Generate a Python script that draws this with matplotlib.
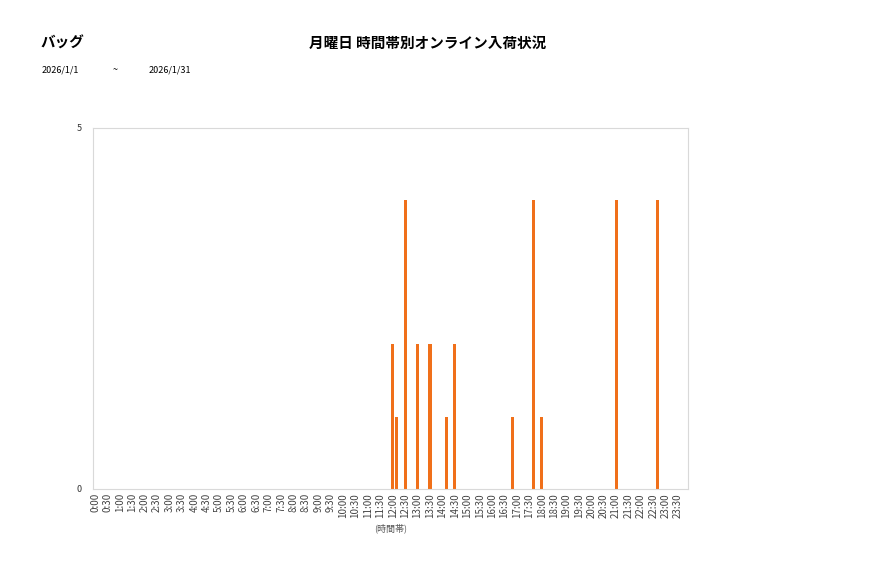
import numpy as np
import matplotlib
matplotlib.use("Agg")
import matplotlib.pyplot as plt

plt.rcParams['font.family'] = ['Noto Sans CJK JP', 'DejaVu Sans']

# 10-minute slots over one day
slot_labels = [f"{h}:{m:02d}" for h in range(24) for m in range(0, 60, 10)]

# non-zero counts
hit_slots = ["12:00", "12:10", "12:30", "13:00", "13:30", "14:10", "14:30",
             "16:50", "17:40", "18:00", "21:00", "22:40"]
hit_counts = [2, 1, 4, 2, 2, 1, 2, 1, 4, 1, 4, 4]

counts = np.zeros(len(slot_labels))
for s, c in zip(hit_slots, hit_counts):
    counts[slot_labels.index(s)] = c

title = "月曜日 時間帯別オンライン入荷状況"
category = "バッグ"
date_from = "2026/1/1"
date_to = "2026/1/31"

fig = plt.figure(figsize=(8.77, 5.78), dpi=100)
ax = fig.add_axes([0.106, 0.154, 0.679, 0.625])

x = np.arange(len(slot_labels))
ax.bar(x, counts, width=0.75, color="#F0701A")

ax.set_xlim(-0.5, len(slot_labels) - 0.5)
ax.set_ylim(0, 5)
ax.set_yticks([0, 5])
ax.set_yticklabels(["0", "5"], fontsize=6.5, color="#333333")
ax.set_xticks(x[::3])
ax.set_xticklabels(slot_labels[::3], rotation=90, fontsize=7, color="#444444")
ax.tick_params(length=0, pad=3)
ax.tick_params(axis="y", pad=8)
for sp in ax.spines.values():
    sp.set_color("#D9D9D9")
    sp.set_linewidth(0.8)
ax.set_xlabel("(時間帯)", fontsize=6.5, color="#555555", labelpad=4)

fig.text(62 / 877, 1 - 43 / 578, category, fontsize=10.5, fontweight="bold",
         ha="center", va="center")
fig.text(428 / 877, 1 - 43 / 578, title, fontsize=10.5, fontweight="bold",
         ha="center", va="center")
fig.text(42 / 877, 1 - 70 / 578, date_from, fontsize=6.5, ha="left", va="center")
fig.text(115 / 877, 1 - 70 / 578, "~", fontsize=6.5, ha="center", va="center")
fig.text(149 / 877, 1 - 70 / 578, date_to, fontsize=6.5, ha="left", va="center")

fig.savefig("out.png", dpi=100)
